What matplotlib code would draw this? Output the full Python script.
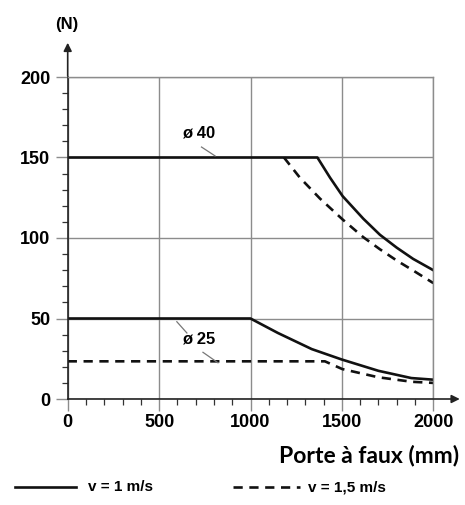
import numpy as np
import matplotlib.pyplot as plt
from matplotlib.ticker import MultipleLocator

# courbes (porte a faux en mm, effort en N)
x40_v1 = [0, 1366, 1435, 1504, 1617, 1708, 1800, 1890, 2000]
y40_v1 = [150, 150, 137.5, 126, 112, 102, 94, 87, 80]
x40_v15 = [1183, 1270, 1380, 1504, 1617, 1708, 1800, 1890, 2000]
y40_v15 = [150, 137.5, 124.5, 111.5, 100.5, 93, 86, 79.8, 72]
x25_v1 = [0, 1000, 1150, 1335, 1500, 1700, 1880, 2000]
y25_v1 = [50, 50, 41, 31, 24.5, 17.5, 13, 12]
x25_v15 = [0, 1407, 1502, 1699, 1882, 2000]
y25_v15 = [23.4, 23.4, 18.6, 13.5, 10.7, 10]

xticks = [0, 500, 1000, 1500, 2000]
yticks = [0, 50, 100, 150, 200]

plt.rcParams['font.family'] = ['Liberation Sans', 'DejaVu Sans']
plt.rcParams['font.weight'] = 'bold'

fig = plt.figure(figsize=(4.65, 5.05), dpi=100)
ax = fig.add_axes([67.7/465, 106/505, 365.6/465, 322/505])

grid_c = '#8c8c8c'
ax.set_xlim(0, 2000)
ax.set_ylim(0, 200)
ax.set_xticks(xticks)
ax.set_yticks(yticks)
ax.xaxis.set_minor_locator(MultipleLocator(100))
ax.yaxis.set_minor_locator(MultipleLocator(10))
ax.grid(True, which='major', color=grid_c, lw=1.0)
ax.tick_params(which='major', length=8.5, width=1.0, color=grid_c,
               labelsize=13, pad=2)
ax.tick_params(axis='y', which='major', pad=4)
ax.tick_params(which='minor', length=4, width=0.9, color='#333333')
for lab in ax.get_xticklabels() + ax.get_yticklabels():
    lab.set_fontweight('bold')

for s in ['top', 'right']:
    ax.spines[s].set_color(grid_c)
    ax.spines[s].set_linewidth(1.0)
for s in ['left', 'bottom']:
    ax.spines[s].set_color('#222222')
    ax.spines[s].set_linewidth(1.2)

# fleches des axes
ax.annotate('', xy=(0, 223), xytext=(0, 199), annotation_clip=False,
            arrowprops=dict(arrowstyle='-|>', color='#222222', lw=1.2,
                            mutation_scale=12))
ax.annotate('', xy=(2160, 0), xytext=(1990, 0), annotation_clip=False,
            arrowprops=dict(arrowstyle='-|>', color='#222222', lw=1.2,
                            mutation_scale=12))

lw = 1.9
dash = (0, (3.5, 2.5))
ax.plot(x40_v1, y40_v1, color='#111111', lw=lw, solid_joinstyle='round')
ax.plot(x40_v15, y40_v15, color='#111111', lw=lw, linestyle=dash)
ax.plot(x25_v1, y25_v1, color='#111111', lw=lw, solid_joinstyle='round')
ax.plot(x25_v15, y25_v15, color='#111111', lw=lw, linestyle=dash)

# reperes
ax.text(718, 165.5, 'ø 40', ha='center', va='center', fontsize=12,
        fontweight='bold')
ax.plot([732, 806], [156.5, 151], color='#777777', lw=0.9)
ax.text(714, 37, 'ø 25', ha='center', va='center', fontsize=12,
        fontweight='bold')
ax.plot([597, 652], [48, 41], color='#777777', lw=0.9)
ax.plot([740, 822], [29, 22.5], color='#777777', lw=0.9)

fig.text(67/465, 1 - 24/505, '(N)', ha='center', va='center', fontsize=12,
         fontweight='bold')
fig.text(459/465, 1 - 456/505, 'Porte à faux (mm)', ha='right', va='center',
         fontsize=16.5, fontweight='bold', family=['Lato', 'DejaVu Sans'])

# legende
fig.add_artist(plt.Line2D([15/465, 76/465], [1 - 487/505] * 2, color='#111111',
                          lw=lw))
fig.text(88/465, 1 - 487/505, 'v = 1 m/s', ha='left', va='center',
         fontsize=11, fontweight='bold')
fig.add_artist(plt.Line2D([233/465, 300/465], [1 - 487/505] * 2,
                          color='#111111', lw=lw, linestyle=dash))
fig.text(308/465, 1 - 487/505, 'v = 1,5 m/s', ha='left', va='center',
         fontsize=11, fontweight='bold')

fig.savefig('out.png', dpi=100, facecolor='white')
